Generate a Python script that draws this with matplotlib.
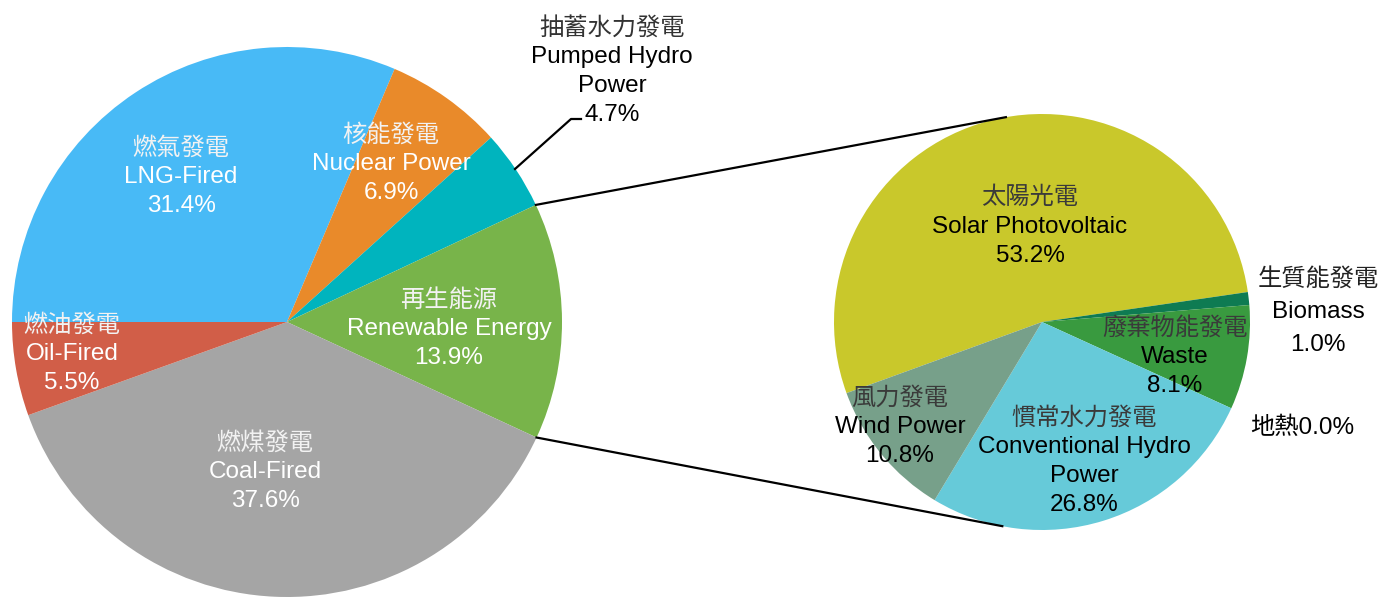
import matplotlib
matplotlib.use('Agg')
import matplotlib.pyplot as plt
import numpy as np

plt.rcParams['font.family'] = ['Liberation Sans', 'Noto Sans CJK TC', 'DejaVu Sans']

# main pie (clockwise from 9 o'clock)
main_cn = ['燃氣發電', '核能發電', '抽蓄水力發電', '再生能源', '燃煤發電', '燃油發電']
main_en = ['LNG-Fired', 'Nuclear Power', 'Pumped Hydro\nPower', 'Renewable Energy', 'Coal-Fired', 'Oil-Fired']
main_pct = [31.4, 6.9, 4.7, 13.9, 37.6, 5.5]
main_colors = ['#48BAF6', '#E98A2A', '#00B4BE', '#78B44A', '#A5A5A5', '#D15E48']

# renewable breakdown
ren_cn = ['太陽光電', '生質能發電', '廢棄物能發電', '地熱', '慣常水力發電', '風力發電']
ren_en = ['Solar Photovoltaic', 'Biomass', 'Waste', '', 'Conventional Hydro\nPower', 'Wind Power']
ren_pct = [53.2, 1.0, 8.1, 0.0, 26.8, 10.8]
ren_colors = ['#C9C82B', '#0E7B52', '#399A3F', '#2E8B57', '#66CAD9', '#77A08A']

W, H = 1387, 597
fig = plt.figure(figsize=(W / 100, H / 100), dpi=100)
ax = fig.add_axes([0, 0, 1, 1])

c1, r1 = (287, H - 322), 275
c2, r2 = (1042, H - 322), 208

w1, _ = ax.pie(main_pct, colors=main_colors, startangle=180, counterclock=False,
               center=c1, radius=r1, frame=True,
               wedgeprops=dict(linewidth=0))
w2, _ = ax.pie(ren_pct, colors=ren_colors, startangle=200, counterclock=False,
               center=c2, radius=r2, frame=True,
               wedgeprops=dict(linewidth=0))
ax.set_xlim(0, W)
ax.set_ylim(0, H)
ax.set_aspect('equal')
ax.axis('off')

fs = 17.5
dy = 3  # small vertical nudge so text sits like the original


def label(x, y, cn, en, pct, col, cncol, gap=29):
    # x, y = image coords of the chinese line
    lines = [(cn, cncol)] + [(s, col) for s in en.split('\n') if s] + [(f'{pct:.1f}%', col)]
    for i, (s, cc) in enumerate(lines):
        ax.text(x, H - (y + dy + i * gap), s, ha='center', va='center', fontsize=fs, color=cc,
                family=['Liberation Sans', 'Noto Sans CJK TC'])


main_pos = [(181, 145), (391, 132), (612, 25), (449, 297), (265, 440), (72, 322)]
for i in range(len(main_pct)):
    col = 'black' if i == 2 else 'white'
    cncol = '#333333' if i == 2 else '#F2F2F2'
    label(main_pos[i][0], main_pos[i][1], main_cn[i], main_en[i], main_pct[i], col, cncol)

ren_pos = [(1030, 195), (1318, 276), (1175, 325), None, (1084, 415), (900, 395)]
for i in range(len(ren_pct)):
    if ren_pos[i] is None:
        continue
    out = i == 1
    label(ren_pos[i][0], ren_pos[i][1], ren_cn[i], ren_en[i], ren_pct[i], 'black',
          '#222222' if out else '#3A3A3A', gap=33 if out else 29)
ax.text(1302, H - 425 - dy, f'{ren_cn[3]}{ren_pct[3]:.1f}%', ha='center', va='center', fontsize=fs,
        color='black', family=['Liberation Sans', 'Noto Sans CJK TC'])

# leader line for pumped hydro
ax.plot([515, 571, 581], [H - 169, H - 119, H - 119], color='black', lw=1.6)

# connector lines between the two pies (edges of renewable wedge)
rw = w1[3]
a1, a2 = np.deg2rad(rw.theta1), np.deg2rad(rw.theta2)
p_top = (c1[0] + r1 * np.cos(a2), c1[1] + r1 * np.sin(a2))
p_bot = (c1[0] + r1 * np.cos(a1), c1[1] + r1 * np.sin(a1))
q_top = (c2[0] + r2 * np.cos(np.deg2rad(100)), c2[1] + r2 * np.sin(np.deg2rad(100)))
q_bot = (c2[0] + r2 * np.cos(np.deg2rad(-101)), c2[1] + r2 * np.sin(np.deg2rad(-101)))
ax.plot([p_top[0], q_top[0]], [p_top[1], q_top[1]], color='black', lw=1.6)
ax.plot([p_bot[0], q_bot[0]], [p_bot[1], q_bot[1]], color='black', lw=1.6)

fig.savefig('out.png', dpi=100)
